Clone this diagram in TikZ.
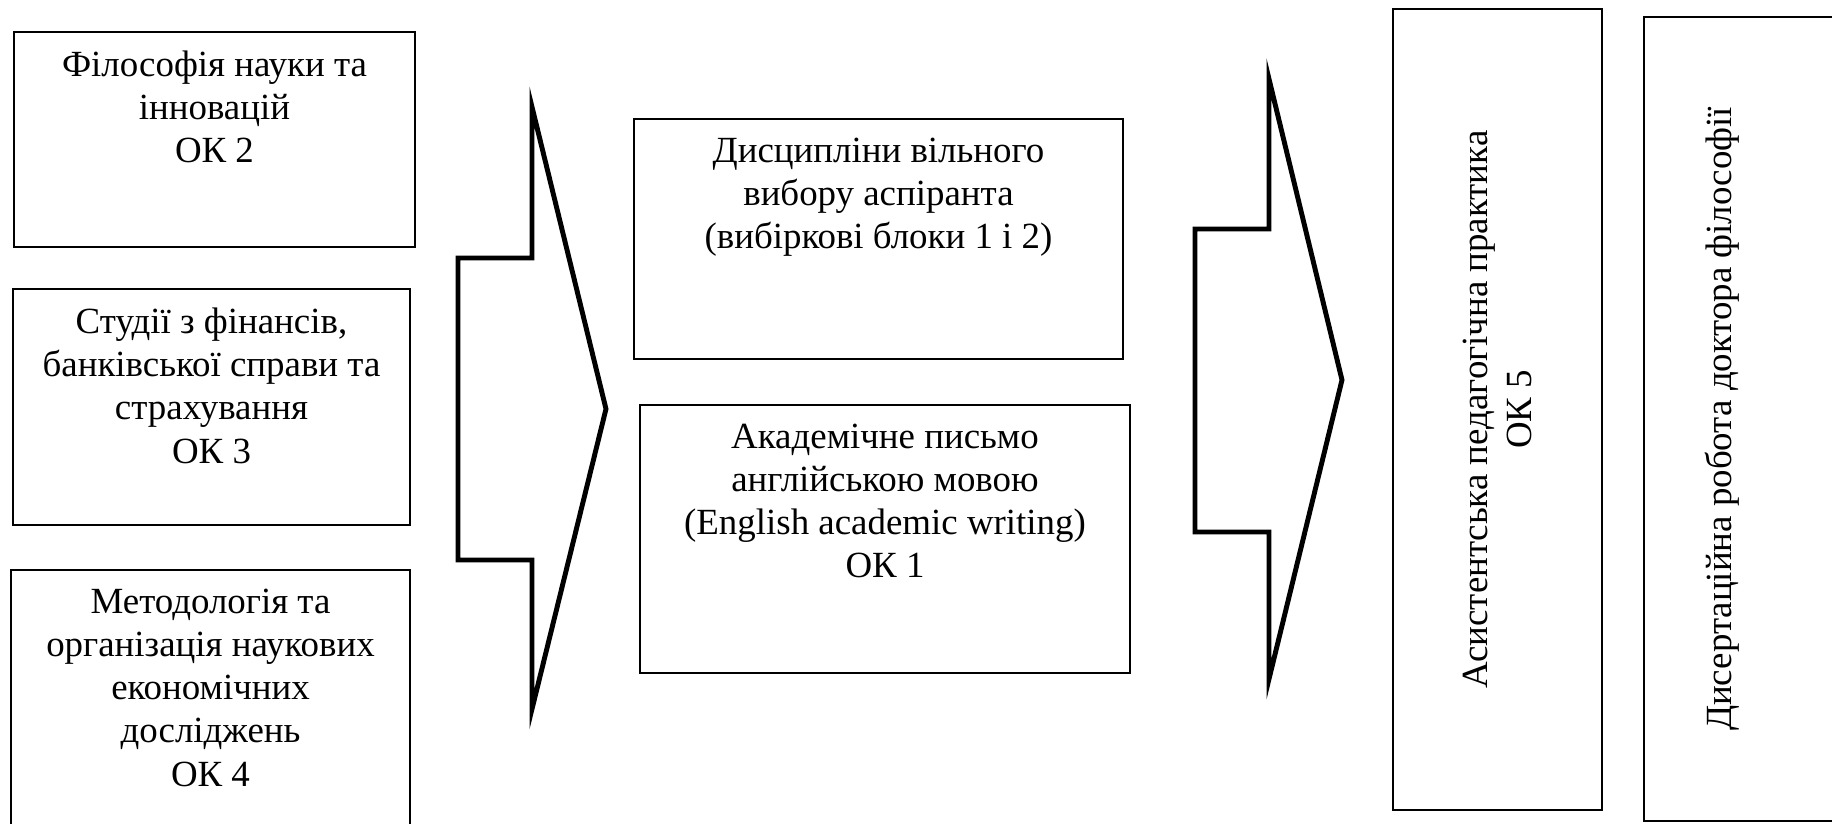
\documentclass[tikz,border=0pt]{standalone}
\usepackage{fontspec}
\setmainfont{Liberation Serif}
\usetikzlibrary{positioning}
\begin{document}
\begin{tikzpicture}[x=1cm,y=1cm,
  box/.style={draw=black,line width=.5pt,inner sep=0pt},
  boxtext/.style={align=center,inner sep=0pt,font=\fontsize{10.5}{12.3}\selectfont},
  vtext/.style={align=center,inner sep=0pt,rotate=90,font=\fontsize{10.5}{12.3}\selectfont},
  bigarrow/.style={draw=black,line width=1.4pt,line join=miter}]
\useasboundingbox (0,0) rectangle (18.32,8.24);
\clip (0,0) rectangle (18.32,8.24);
% compulsory courses
\node[box,minimum width=4.01cm,minimum height=2.15cm] (phil) at (2.145,6.845) {};
\node[boxtext,below=1.9mm of phil.north] (phil-t) {Філософія науки та\\інновацій\\ОК 2};
\node[box,minimum width=3.97cm,minimum height=2.36cm] (fin) at (2.115,4.17) {};
\node[boxtext,below=1.9mm of fin.north] (fin-t) {Студії з фінансів,\\банківської справи та\\страхування\\ОК 3};
\node[box,minimum width=3.99cm,minimum height=2.74cm] (method) at (2.105,1.17) {};
\node[boxtext,below=1.9mm of method.north] (method-t) {Методологія та\\організація наукових\\економічних\\досліджень\\ОК 4};
\draw[bigarrow] (4.58,5.66)--(5.32,5.66)--(5.32,7.17)--(6.06,4.15)--(5.32,1.15)--(5.32,2.64)--(4.58,2.64)--cycle;
% second stage
\node[box,minimum width=4.89cm,minimum height=2.40cm] (elect) at (8.785,5.85) {};
\node[boxtext,below=1.9mm of elect.north] (elect-t) {Дисципліни вільного\\вибору аспіранта\\(вибіркові блоки 1 і 2)};
\node[box,minimum width=4.90cm,minimum height=2.68cm] (writing) at (8.85,2.85) {};
\node[boxtext,below=1.9mm of writing.north] (writing-t) {Академічне письмо\\англійською мовою\\(English academic writing)\\ОК 1};
\draw[bigarrow] (11.95,5.95)--(12.69,5.95)--(12.69,7.45)--(13.42,4.44)--(12.69,1.45)--(12.69,2.92)--(11.95,2.92)--cycle;
% practice and thesis
\node[box,minimum width=2.09cm,minimum height=8.01cm] (practice) at (14.975,4.145) {};
\node[vtext] (practice-t) at (practice.center) {Асистентська педагогічна практика\\ОК 5};
\node[box,minimum width=2.06cm,minimum height=8.04cm] (thesis) at (17.47,4.05) {};
\node[vtext,right=7.9mm of thesis.west,anchor=center] (thesis-t) {Дисертаційна робота доктора філософії};
\end{tikzpicture}
\end{document}
